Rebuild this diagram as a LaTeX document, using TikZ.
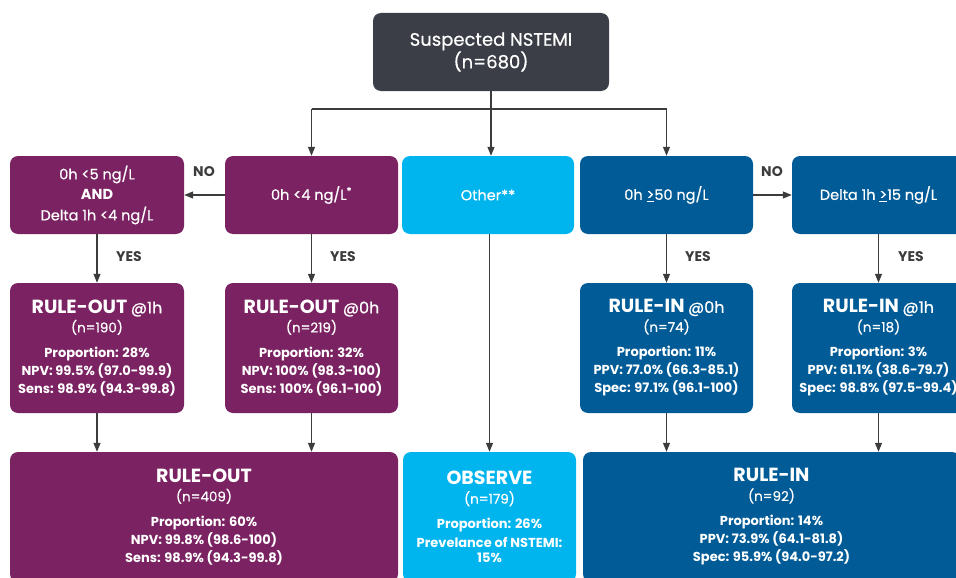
\documentclass[tikz,border=0pt]{standalone}
\usepackage{fontspec}
\setmainfont{Poppins}[UprightFeatures={FakeBold=0.6}]
\usetikzlibrary{arrows.meta}
\definecolor{purp}{HTML}{7B2262}
\definecolor{lblue}{HTML}{00B4EE}
\definecolor{dblue}{HTML}{005B96}
\definecolor{topgrey}{HTML}{3B3E46}
\definecolor{linegrey}{HTML}{3C3C3C}
\tikzset{
  box/.style={rounded corners=8pt, inner sep=0pt, align=center, text=white,
    font=\fontsize{13}{18}\selectfont},
  cond/.style={box, minimum width=173pt, minimum height=78pt, font=\fontsize{14.5}{20.5}\selectfont},
  res/.style={box, minimum width=173pt, minimum height=130pt},
  lab/.style={font=\fontsize{14}{14}\selectfont\bfseries, text=linegrey, inner sep=0pt},
  arr/.style={draw=linegrey, line width=1.2pt, -{Triangle[width=7pt,length=9pt]}},
  ln/.style={draw=linegrey, line width=1.2pt}
}
\newcommand{\ttl}[1]{{\fontsize{19}{19}\selectfont\bfseries #1}}
\newcommand{\sub}[1]{{\fontsize{16}{16}\selectfont #1}}
\newcommand{\nn}[1]{{\fontsize{13.5}{13.5}\selectfont #1}}
\begin{document}
\begin{tikzpicture}[x=1pt,y=-1pt]
\clip (0,0) rectangle (956,578);
% top
\node[box, fill=topgrey, minimum width=236pt, minimum height=78pt, font=\fontsize{18}{19}\selectfont] (top) at (491,52) {Suspected NSTEMI\\(n=680)};
% row 2
\node[cond, fill=purp, minimum width=174pt] (A) at (97,195) {0h <5 ng/L\\\textbf{AND}\\Delta 1h <4 ng/L};
\node[cond, fill=purp] (B) at (311.5,195) {0h <4 ng/L\textsuperscript{*}};
\node[cond, fill=lblue, minimum width=172pt] (O) at (488,195) {Other**};
\node[cond, fill=dblue] (D) at (666.5,195) {0h \underline{>}50 ng/L};
\node[cond, fill=dblue] (E) at (878.5,195) {Delta 1h \underline{>}15 ng/L};
% row 3
\node[res, fill=purp, minimum width=174pt] (RO1) at (97,348) {\ttl{RULE-OUT} \sub{@1h}\\[1pt]\nn{(n=190)}\\[7pt]\textbf{Proportion: 28\%}\\\textbf{NPV: 99.5\% (97.0-99.9)}\\\textbf{Sens: 98.9\% (94.3-99.8)}};
\node[res, fill=purp] (RO0) at (311.5,348) {\ttl{RULE-OUT} \sub{@0h}\\[1pt]\nn{(n=219)}\\[7pt]\textbf{Proportion: 32\%}\\\textbf{NPV: 100\% (98.3-100)}\\\textbf{Sens: 100\% (96.1-100)}};
\node[res, fill=dblue] (RI0) at (666.5,348) {\ttl{RULE-IN} \sub{@0h}\\[1pt]\nn{(n=74)}\\[7pt]\textbf{Proportion: 11\%}\\\textbf{PPV: 77.0\% (66.3-85.1)}\\\textbf{Spec: 97.1\% (96.1-100)}};
\node[res, fill=dblue] (RI1) at (878.5,348) {\ttl{RULE-IN} \sub{@1h}\\[1pt]\nn{(n=18)}\\[7pt]\textbf{Proportion: 3\%}\\\textbf{PPV: 61.1\% (38.6-79.7)}\\\textbf{Spec: 98.8\% (97.5-99.4)}};
% row 4
\node[res, fill=purp, minimum width=388pt] (ROB) at (204,517) {\ttl{RULE-OUT}\\[1pt]\nn{(n=409)}\\[7pt]\textbf{Proportion: 60\%}\\\textbf{NPV: 99.8\% (98.6-100)}\\\textbf{Sens: 98.9\% (94.3-99.8)}};
\node[res, fill=lblue] (OB) at (489.5,517) {\ttl{OBSERVE}\\[1pt]\nn{(n=179)}\\[7pt]\textbf{Proportion: 26\%}\\[1pt]\textbf{Prevelance of NSTEMI:}\\[-3pt]\textbf{15\%}};
\node[res, fill=dblue, minimum width=377pt] (RIB) at (771.5,517) {\ttl{RULE-IN}\\[1pt]\nn{(n=92)}\\[7pt]\textbf{Proportion: 14\%}\\\textbf{PPV: 73.9\% (64.1-81.8)}\\\textbf{Spec: 95.9\% (94.0-97.2)}};
% connectors
\coordinate (J) at (491,109);
\draw[arr] (top.south) -- (top.south |- O.north);
\draw[ln] (J -| B.north) -- (J -| D.north);
\draw[arr] (J -| B.north) -- (B.north);
\draw[arr] (J -| D.north) -- (D.north);
\draw[arr] (B.west) -- (A.east);
\draw[arr] (D.east) -- (E.west);
\draw[arr] (A) -- (RO1);
\draw[arr] (B) -- (RO0);
\draw[arr] (D) -- (RI0);
\draw[arr] (E) -- (RI1);
\draw[arr] (RO1.south) -- (RO1.south |- ROB.north);
\draw[arr] (RO0.south) -- (RO0.south |- ROB.north);
\draw[arr] (O.south -| OB.north) -- (OB.north);
\draw[arr] (RI0.south) -- (RI0.south |- RIB.north);
\draw[arr] (RI1.south) -- (RI1.south |- RIB.north);
% labels
\node[lab] (no1) at (204,172) {NO};
\node[lab] (no2) at (772,172) {NO};
\node[lab] (y1) at (129,257) {YES};
\node[lab] (y2) at (343,257) {YES};
\node[lab] (y3) at (698,257) {YES};
\node[lab] (y4) at (911,257) {YES};
\end{tikzpicture}
\end{document}
